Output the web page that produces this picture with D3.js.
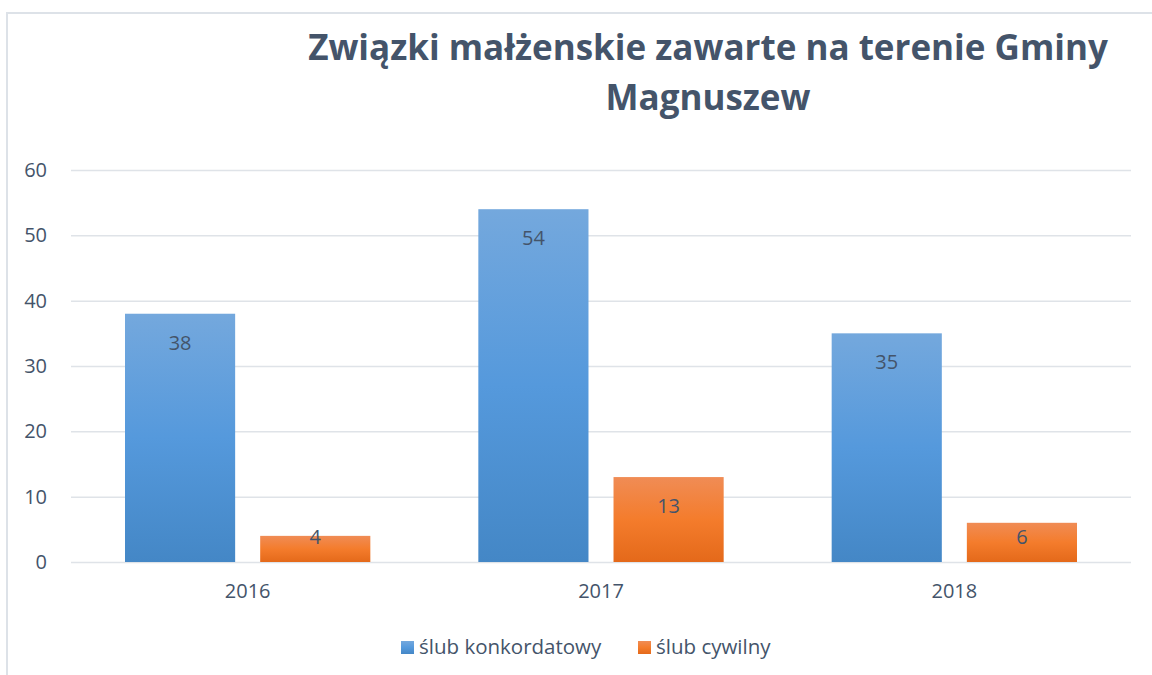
<!DOCTYPE html>
<html><head><meta charset="utf-8">
<script src="https://cdn.jsdelivr.net/npm/d3@7"></script>
<style>
html,body{margin:0;padding:0;background:#fff;}
svg{display:block;font-family:"Open Sans","Noto Sans",sans-serif;}
</style></head>
<body>
<script>
const titleLines = ["Związki małżenskie zawarte na terenie Gminy", "Magnuszew"];
const categories = ["2016", "2017", "2018"];
const seriesNames = ["ślub konkordatowy", "ślub cywilny"];
const konkordatowy = [38, 54, 35];
const cywilny = [4, 13, 6];
const yTicks = [0, 10, 20, 30, 40, 50, 60];

(function () {
const W = 1152, H = 675;
const svg = d3.select("body").append("svg").attr("width", W).attr("height", H);
const defs = svg.append("defs");
const gradDefs = [
  {id: "gBlue", stops: ["#74a8dd", "#5599dc", "#4487c6"]},
  {id: "gOrange", stops: ["#f08c55", "#f47c2c", "#e4691a"]}
];
gradDefs.forEach(g => {
  const lg = defs.append("linearGradient").attr("id", g.id).attr("x1", 0).attr("y1", 0).attr("x2", 0).attr("y2", 1);
  g.stops.forEach((c, i) => lg.append("stop").attr("offset", (i / (g.stops.length - 1) * 100) + "%").attr("stop-color", c));
});
const fills = ["url(#gBlue)", "url(#gOrange)"];

// border
svg.append("path").attr("d", "M7,675 V13 H1152").attr("fill", "none").attr("stroke", "#dde2e8").attr("stroke-width", 2);

const textColor = "#44546a";
const fs = 20;
const pLeft = 71, pRight = 1131, pTop = 170, pBottom = 562;

const y = d3.scaleLinear().domain([0, 60]).range([pBottom, pTop]);
const x0 = d3.scaleBand().domain(categories).range([pLeft, pRight]).paddingInner(0).paddingOuter(0);
const inner = 54;
const x1 = d3.scaleBand().domain(seriesNames).range([inner, x0.bandwidth() - inner]).paddingInner(25 / 135).paddingOuter(0);

// title
svg.append("text").attr("text-anchor", "middle")
  .attr("fill", textColor).attr("font-weight", "bold").attr("font-size", 35)
  .selectAll("tspan").data(titleLines).join("tspan")
  .attr("x", 708).attr("y", (d, i) => 60 + i * 50).text(d => d);

// grid + y axis
const yAxis = d3.axisLeft(y).tickValues(yTicks).tickSize(-(pRight - pLeft)).tickPadding(24);
const ga = svg.append("g").attr("transform", `translate(${pLeft},0)`).call(yAxis);
ga.select(".domain").remove();
ga.selectAll(".tick line").attr("stroke", "#dfe3e8").attr("stroke-width", 1.5);
ga.selectAll(".tick text").attr("fill", textColor).attr("font-size", fs).attr("font-family", "Open Sans, Noto Sans, sans-serif");

// x axis labels
const xa = svg.append("g").attr("transform", `translate(0,${pBottom})`).call(d3.axisBottom(x0).tickSize(0).tickPadding(22));
xa.select(".domain").remove();
xa.selectAll(".tick text").attr("fill", textColor).attr("font-size", fs).attr("font-family", "Open Sans, Noto Sans, sans-serif");

const data = categories.map((c, i) => ({cat: c, vals: [konkordatowy[i], cywilny[i]]}));
const groups = svg.append("g").selectAll("g").data(data).join("g")
  .attr("transform", d => `translate(${x0(d.cat)},0)`);
groups.selectAll("rect").data(d => d.vals.map((v, i) => ({v, s: seriesNames[i], i}))).join("rect")
  .attr("x", d => x1(d.s)).attr("width", x1.bandwidth())
  .attr("y", d => y(d.v)).attr("height", d => y(0) - y(d.v))
  .attr("fill", d => fills[d.i]);
groups.selectAll("text.lbl").data(d => d.vals.map((v, i) => ({v, s: seriesNames[i], i}))).join("text")
  .attr("class", "lbl")
  .attr("x", d => x1(d.s) + x1.bandwidth() / 2)
  .attr("y", d => Math.min(y(d.v) + 36, y(0) - 18))
  .attr("text-anchor", "middle").attr("fill", textColor).attr("font-size", fs)
  .text(d => d.v);

// legend
const legend = svg.append("g");
const legX = [401, 638];
seriesNames.forEach((s, i) => {
  legend.append("rect").attr("x", legX[i]).attr("y", 641).attr("width", 13).attr("height", 13).attr("fill", fills[i]);
  legend.append("text").attr("x", legX[i] + 18).attr("y", 654).attr("fill", textColor).attr("font-size", 20.5).text(s);
});
})();
</script>
</body></html>
